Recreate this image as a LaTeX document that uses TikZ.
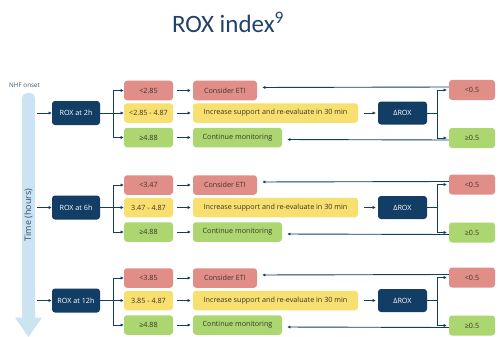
\documentclass[tikz,border=0pt]{standalone}
\usepackage{fontspec}
\setmainfont{Open Sans}
\newfontfamily\titlefont{Carlito}
\usetikzlibrary{arrows.meta}
\definecolor{navy}{RGB}{18,62,102}
\definecolor{titlecol}{RGB}{35,66,106}
\definecolor{boxred}{RGB}{226,142,136}
\definecolor{boxyel}{RGB}{248,224,112}
\definecolor{boxgrn}{RGB}{172,214,112}
\definecolor{timeblue}{RGB}{204,228,242}
\definecolor{txt}{RGB}{60,52,45}
\tikzset{
  base/.style={rectangle, rounded corners=3pt, inner sep=0pt, font=\fontsize{7.2}{8}\selectfont, text=txt},
  redbox/.style={base, fill=boxred},
  yelbox/.style={base, fill=boxyel},
  grnbox/.style={base, fill=boxgrn},
  navybox/.style={base, fill=navy, text=white, minimum width=48pt, minimum height=24pt},
  small/.style={minimum width=49pt, minimum height=19.5pt},
  rsmall/.style={minimum width=46pt, minimum height=20pt},
  conn/.style={draw=navy, line width=0.9pt, -{Latex[length=3.2pt,width=3.2pt]}},
  plain/.style={draw=navy, line width=0.9pt},
}
\begin{document}
\begin{tikzpicture}[x=1pt,y=-1pt]
\useasboundingbox (0,0) rectangle (498,337);
\fill[white] (0,0) rectangle (498,337);
% title
\node[text=titlecol, font=\titlefont\fontsize{25}{28}\selectfont, inner sep=0pt, anchor=base] (title) at (228,33) {ROX index\textsuperscript{9}};
% time arrow
\fill[timeblue, rounded corners=5pt] (22,318) -- (22,93) -- (35,93) -- (35,318);
\fill[timeblue] (22,300) rectangle (35,318);
\fill[timeblue] (22,317.5) -- (15,317.5) -- (28.5,337) -- (42,317.5) -- (35,317.5) -- cycle;
\node[text=navy!75!gray, rotate=90, font=\fontsize{9}{10}\selectfont, inner sep=0pt] (time) at (28.5,215) {Time (hours)};
\node[text=navy!60!gray, font=\fontsize{6.3}{7}\selectfont, inner sep=0pt, anchor=west] (onset) at (9,85) {NHF onset};
\foreach \i/\yc/\hr/\lo/\mid in {1/113/2h/<2.85/<2.85 - 4.87, 2/207.5/6h/<3.47/3.47 - 4.87, 3/300.5/12h/<3.85/3.85 - 4.87}{
  \node[navybox] (rox\i) at (76,\yc) {ROX at \hr};
  \coordinate (in\i) at (37,\yc);
  \draw[conn] (in\i) -- (rox\i.west);
  \node[redbox, small] (lo\i) at (148.5,\yc-22.5) {\lo};
  \node[yelbox, small] (mi\i) at (148.5,\yc) {\mid};
  \node[grnbox, small] (hi\i) at (148.5,\yc+24.5) {≥4.88};
  \coordinate (b\i) at (113,\yc);
  \draw[plain] (rox\i.east) -- (b\i);
  \draw[conn] (b\i) |- (lo\i.west);
  \draw[conn] (b\i) -- (mi\i.west);
  \draw[conn] (b\i) |- (hi\i.west);
  \node[redbox, minimum width=64pt, minimum height=19.5pt] (eti\i) at (225,\yc-22.5) {Consider ETI};
  \node[yelbox, minimum width=165pt, minimum height=19.5pt] (inc\i) at (275.5,\yc) {Increase support and re-evaluate in 30 min};
  \node[grnbox, minimum width=89pt, minimum height=19.5pt] (mon\i) at (237.5,\yc+24.5) {Continue monitoring};
  \draw[conn, shorten <=4pt, shorten >=2pt] (lo\i.east) -- (eti\i.west);
  \draw[conn, shorten <=4pt, shorten >=2pt] (mi\i.east) -- (inc\i.west);
  \draw[conn, shorten <=4pt, shorten >=2pt] (hi\i.east) -- (mon\i.west);
  \node[navybox, minimum width=49pt, minimum height=23pt] (dr\i) at (402.5,\yc) {ΔROX};
  \draw[conn, shorten <=6pt, shorten >=2pt] (inc\i.east) -- (dr\i.west);
  \node[redbox, rsmall] (dl\i) at (472,\yc-23) {<0.5};
  \node[grnbox, rsmall] (dh\i) at (472,\yc+25) {≥0.5};
  \coordinate (c\i) at (437,\yc);
  \draw[plain] (dr\i.east) -- (c\i);
  \draw[conn] (c\i) |- ([xshift=-2pt]dl\i.west);
  \draw[conn] (c\i) |- ([xshift=-2pt]dh\i.west);
  \draw[conn, shorten >=5pt] ([yshift=3pt]dl\i.west) -- ([yshift=3pt]eti\i.east);
  \draw[conn, shorten >=5pt] ([yshift=-2pt]dh\i.west) -- ([yshift=-2pt]mon\i.east);
}
\end{tikzpicture}
\end{document}
